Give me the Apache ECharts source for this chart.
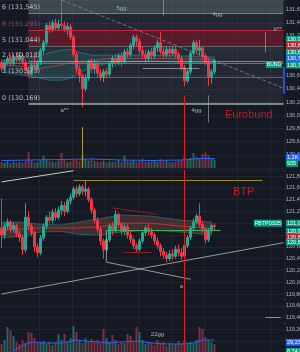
<!DOCTYPE html>
<html><head><meta charset="utf-8">
<script src="https://cdn.jsdelivr.net/npm/echarts@6/dist/echarts.min.js"></script>
<style>html,body{margin:0;padding:0;background:#151924;overflow:hidden}#c{width:300px;height:352px}</style>
</head><body><div id="c"></div>
<script>
// ---------- DATA ----------
// Eurobund candles [open, close, low, high]
const bundCandles = [
[130.80,130.71,130.66,130.84],[130.72,130.80,130.68,130.84],[130.80,130.86,130.76,130.90],[130.86,130.78,130.74,130.92],
[130.78,130.88,130.75,130.93],[130.88,130.84,130.80,130.95],[130.84,130.90,130.80,130.96],[130.90,130.80,130.76,130.94],
[130.80,130.68,130.62,130.84],[130.68,130.62,130.58,130.74],[130.62,130.76,130.60,130.80],[130.76,130.72,130.66,130.90],
[130.72,130.80,130.68,130.84],[130.80,130.98,130.76,131.02],[130.98,131.10,130.92,131.14],[131.10,131.36,131.05,131.40],
[131.36,131.30,131.24,131.42],[131.30,131.40,131.26,131.44],[131.40,131.32,131.28,131.46],[131.32,131.38,131.28,131.44],
[131.38,131.36,131.30,131.74],[131.36,131.30,131.26,131.42],[131.30,131.34,131.22,131.40],[131.34,131.18,131.14,131.38],
[131.18,130.92,130.88,131.22],[130.92,130.70,130.64,130.96],[130.70,130.60,130.50,130.76],[130.60,130.40,130.12,130.64],
[130.40,130.56,130.36,130.62],[130.56,130.80,130.52,130.84],[130.80,130.70,130.64,130.86],[130.70,130.78,130.62,130.84],
[130.78,130.64,130.58,130.82],[130.64,130.58,130.52,130.70],[130.58,130.66,130.50,130.70],[130.66,130.62,130.56,130.72],
[130.62,130.78,130.58,130.82],[130.78,130.86,130.72,130.90],[130.86,130.80,130.74,130.92],[130.80,130.90,130.76,130.94],
[130.90,130.82,130.74,130.96],[130.82,130.96,130.78,131.00],[130.96,130.92,130.86,131.02],[130.92,131.06,130.88,131.10],
[131.06,131.18,131.00,131.22],[131.18,131.12,131.04,131.22],[131.12,130.98,130.94,131.16],[130.98,130.92,130.86,131.04],
[130.92,130.86,130.80,130.98],[130.86,130.96,130.82,131.00],[130.96,130.90,130.84,131.02],[130.90,131.02,130.86,131.06],
[131.02,131.10,130.96,131.14],[131.10,130.96,130.92,131.26],[130.96,130.92,130.86,131.04],[130.92,131.00,130.88,131.04],
[131.00,130.94,130.88,131.04],[130.94,131.00,130.90,131.04],[131.00,130.92,130.86,131.04],[130.92,130.86,130.80,130.96],
[130.86,130.72,130.68,130.90],[130.72,130.52,130.44,130.76],[130.52,130.66,130.48,130.70],[130.66,130.94,130.62,130.98],
[130.94,131.10,130.90,131.14],[131.10,130.98,130.94,131.14],[130.98,131.02,130.90,131.14],[131.02,130.90,130.84,131.04],
[130.90,130.80,130.76,130.94],[130.80,130.58,130.44,130.84],[130.58,130.66,130.48,130.70],[130.66,130.82,130.62,130.86]
];
// BTP candles [open, close, low, high]
const btpCandles = [
[120.92,120.80,120.58,121.42],[120.80,120.95,120.74,121.00],[120.95,121.02,120.88,121.08],[121.02,120.90,120.84,121.06],
[120.90,120.96,120.84,121.02],[120.96,120.82,120.76,121.00],[120.82,120.76,120.68,120.88],[120.76,120.55,120.46,120.80],
[120.55,121.10,120.50,121.34],[121.10,120.95,120.88,121.20],[120.95,120.84,120.78,121.00],[120.84,120.60,120.52,120.88],
[120.60,120.50,120.42,120.66],[120.50,120.75,120.46,120.80],[120.75,120.95,120.70,121.00],[120.95,121.10,120.90,121.14],
[121.10,121.05,121.00,121.20],[121.05,121.18,121.00,121.24],[121.18,121.10,121.04,121.26],[121.10,121.22,121.06,121.28],
[121.22,121.30,121.14,121.38],[121.30,121.20,121.12,121.36],[121.20,121.38,121.16,121.42],[121.38,121.44,121.32,121.50],
[121.44,121.58,121.40,121.62],[121.58,121.50,121.44,121.64],[121.50,121.62,121.46,121.66],[121.62,121.54,121.48,121.66],
[121.54,121.58,121.46,121.73],[121.58,121.40,121.36,121.62],[121.40,121.22,121.16,121.44],[121.22,121.05,121.00,121.26],
[121.05,120.90,120.84,121.10],[120.90,120.70,120.62,120.94],[120.70,120.55,120.40,120.74],[120.55,120.72,120.50,120.78],
[120.72,120.95,120.68,121.00],[120.95,120.88,120.80,121.02],[120.88,121.15,120.84,121.22],[121.15,120.98,120.92,121.18],
[120.98,120.86,120.80,121.02],[120.86,120.94,120.80,121.00],[120.94,120.80,120.74,120.98],[120.80,120.72,120.66,120.86],
[120.72,120.62,120.56,120.76],[120.62,120.56,120.50,120.66],[120.56,120.70,120.52,120.74],[120.70,120.84,120.66,120.88],
[120.84,120.92,120.78,120.96],[120.92,120.86,120.80,120.98],[120.86,120.80,120.74,120.92],[120.80,120.70,120.64,120.84],
[120.70,120.62,120.56,120.76],[120.62,120.52,120.44,120.66],[120.52,120.46,120.40,120.58],[120.46,120.40,120.34,120.52],
[120.40,120.48,120.36,120.54],[120.48,120.44,120.38,120.56],[120.44,120.56,120.40,120.62],[120.56,120.50,120.44,120.64],
[120.50,120.44,120.38,120.58],[120.44,120.62,120.40,120.66],[120.62,120.76,120.58,120.80],[120.76,120.92,120.72,120.96],
[120.92,121.02,120.88,121.08],[121.02,121.12,120.98,121.16],[121.12,120.98,120.94,121.34],[120.98,120.90,120.84,121.04],
[120.90,120.72,120.66,120.94],[120.72,120.88,120.68,120.92],[120.88,120.96,120.82,121.00],[120.96,120.94,120.88,121.00]
];
const bundVolume = [60,55,70,50,65,55,60,50,65,160,70,55,60,75,120,90,70,65,60,75,150,90,60,70,85,80,70,125,90,75,100,70,65,60,75,55,70,60,65,80,60,125,70,65,80,60,70,95,65,60,70,80,60,90,65,70,60,55,65,70,80,120,90,100,150,110,100,140,155,130,100,85];
const btpVolume = [8,12,25,22,16,10,8,12,9,20,19,14,10,9,11,8,10,7,9,18,12,18,10,14,26,20,12,9,14,11,13,10,12,9,23,14,10,17,12,8,10,9,18,16,10,25,20,12,8,10,9,7,12,8,10,6,9,7,8,11,9,12,8,10,9,12,25,23,15,12,10,8];
const bundVolMA = [[0,75],[10,80],[20,85],[30,90],[40,80],[50,75],[60,80],[66,95],[71,95]];
const btpVolMA = [[4,1],[8,8],[10,10],[14,9],[20,9],[25,12],[28,11],[32,10],[36,9],[40,10],[45,11],[50,9],[55,8],[60,8],[64,9],[67,12],[71,12]];
// bands [index, price]
const bundBandUpper = [[0,130.83],[6,130.86],[13,130.89],[16,130.95],[20,130.98],[23,131.00],[26,130.95],[30,130.91],[36,130.91],[50,130.91],[66,130.89],[71,130.88]];
const bundBandMid   = [[0,130.76],[6,130.74],[13,130.71],[16,130.73],[20,130.76],[23,130.80],[26,130.80],[30,130.83],[36,130.86],[50,130.86],[66,130.85],[71,130.84]];
const bundBandLower = [[0,130.65],[6,130.62],[13,130.56],[16,130.53],[20,130.53],[23,130.56],[26,130.65],[30,130.71],[36,130.80],[50,130.82],[66,130.79],[71,130.80]];
const btpBandUpper = [[0,121.02],[6,121.02],[13,120.98],[20,120.97],[26,121.02],[33,121.08],[40,121.14],[50,121.12],[60,121.05],[70,121.02]];
const btpBandMid   = [[0,120.88],[6,120.90],[13,120.92],[20,120.92],[26,120.92],[33,120.94],[40,121.00],[50,121.00],[60,120.95],[70,120.91]];
const btpBandLower = [[0,120.75],[6,120.78],[13,120.85],[20,120.86],[26,120.81],[33,120.80],[40,120.85],[50,120.88],[60,120.85],[70,120.80]];
// fibonacci levels
const fibLevels = [131.545,131.291,131.044,130.818,130.573,130.169];
const fibLabels = ['6 (131,545)','8 (131,291)','5 (131,044)','2 (130,818)','3 (130,573)','0 (130,169)'];
// price tags
const bundTagLevels = [131.15,131.06,130.95,130.86,130.76];
const bundTagTexts = ['130,94','130,87','130,84','130,78','130,76'];
const bundVolTagLevels = [129.36,129.27];
const bundVolTagTexts = ['1,2K','935'];
const btpTagLevels = [121.00,120.86,120.76,120.68,118.98,118.83];
const btpTagTexts = ['121,00','120,94','120,81','120,69','29,23 K','8,74 K'];
// text notes [index, price, text]
const bundNotes = [[40,131.62,'5gg'],[72,131.53,'4gg'],[65,130.08,'4gg'],[21,130.08,'a**'],[92,131.30,'b**']];
const btpNotes = [[60,119.93,'a'],[52,119.12,'22gg']];
const nCats = 95;
const cats = Array.from({length:nCats},(_, i)=>String(i));

// ---------- STYLE ----------
const UP='#22ab94', DOWN='#f23645', GREEN='#089981', RED='#b22833', BLUE='#2962ff';
const FONT='Liberation Sans';
const fmt = v => v.toFixed(2).replace('.', ',');
const tagStyles = {
  bund:[GREEN,RED,GREEN,BLUE,GREEN], bundVol:[BLUE,GREEN], btp:[GREEN,GREEN,RED,GREEN,BLUE,GREEN]
};
function tag(val, text, bg){
  return {yAxis:val, lineStyle:{color:'rgba(0,0,0,0)', opacity:1}, label:{show:true, position:'end', distance:1, formatter:text, opacity:1,
    backgroundColor:bg, color:'#fff', fontSize:5.5, fontFamily:FONT, padding:[1,2,0,1]}};
}
function seg(a, b, color, width, type){
  return [{coord:a, lineStyle:{color, width:width||1, type:type||'solid'}}, {coord:b}];
}
function note(n, color){
  return {coord:[n[0], n[1]], symbol:'circle', symbolSize:1, itemStyle:{color:'rgba(0,0,0,0)'},
    label:{show:true, position:'inside', formatter:n[2], color, fontSize:6, fontFamily:FONT}};
}
function leftTag(i, p, text, size){
  return {coord:[i,p], symbol:'circle', symbolSize:1, itemStyle:{color:'rgba(0,0,0,0)'},
    label:{show:true, position:'left', distance:1, formatter:text, color:'#fff', backgroundColor:GREEN, fontSize:size, fontFamily:FONT, padding:[1,1,0,1]}};
}
function band(xi, yi, up, lo, fill, edge){
  return {type:'custom', xAxisIndex:xi, yAxisIndex:yi, silent:true, z:1, data:[[up[0][0], up[0][1]]],
    renderItem:(params, api)=>{
      const t = up.map(d=>api.coord(d));
      const b = lo.map(d=>api.coord(d));
      return {type:'group', children:[
        {type:'polygon', shape:{points:t.concat(b.slice().reverse())}, style:{fill:fill}},
        {type:'polyline', shape:{points:t}, style:{stroke:edge, fill:null, lineWidth:1}},
        {type:'polyline', shape:{points:b}, style:{stroke:edge, fill:null, lineWidth:1}}
      ]};
    }};
}
const fibFill = ['rgba(120,135,130,0.42)','rgba(130,135,155,0.13)','rgba(170,30,50,0.45)','rgba(130,135,155,0.17)','rgba(130,135,155,0.14)','rgba(130,135,155,0.12)'];
const fibLine = ['rgba(170,185,180,0.6)','#c62a3a','rgba(170,175,185,0.45)','rgba(200,205,210,0.55)','rgba(170,175,185,0.45)','rgba(180,200,180,0.85)'];
const fibAreas = [[{xAxis:9, yAxis:fibLevels[0], itemStyle:{color:fibFill[0]}},{xAxis:94, yAxis:131.745}]];
for(let k=0;k<fibLevels.length-1;k++){
  fibAreas.push([{xAxis:9, yAxis:fibLevels[k], itemStyle:{color:fibFill[k+1]}},{xAxis:94, yAxis:fibLevels[k+1]}]);
}
const bundLines = fibLevels.map((l,k)=>seg([9,l],[94,l],fibLine[k], k===5?1.5:1));
bundLines.push(seg([0,130.79],[94,130.79],'rgba(60,170,110,0.8)',1));
bundLines.push(seg([47,130.71],[66,130.71],'rgba(200,205,210,0.6)',1));
bundLines.push(seg([20,131.745],[94,130.41],'rgba(150,160,165,0.6)',1,'dashed'));
bundLines.push(seg([54,131.745],[54,131.50],'rgba(150,160,160,0.7)',1));
bundLines.push(seg([88,131.26],[88,130.95],'rgba(150,160,160,0.7)',1));
bundLines.push(seg([69,130.30],[69,129.89],'rgba(150,160,160,0.7)',1));
bundLines.push(seg([61,130.30],[61,129.2],'#e01c24',1));
bundLines.push(seg([27,129.82],[27,129.2],'#a89a2a',1));
bundLines.push(seg([94,130.73],[94,130.33],BLUE,1.5));
bundTagLevels.forEach((v,k)=>bundLines.push(tag(v,bundTagTexts[k],tagStyles.bund[k])));
bundVolTagLevels.forEach((v,k)=>bundLines.push(tag(v,bundVolTagTexts[k],tagStyles.bundVol[k])));

const btpLines = [
  seg([24,121.73],[87,121.73],'#9a8a20',1),
  seg([0,121.70],[24,121.89],'#b8d8b0',1),
  seg([35,120.88],[73,120.88],'#3fae5a',1),
  seg([0,119.80],[94,120.67],'rgba(200,210,190,0.7)',1),
  seg([35,120.34],[63,120.05],'rgba(200,210,190,0.7)',1),
  seg([35,120.88],[35,120.34],'rgba(170,175,175,0.7)',1),
  seg([37,121.26],[52,121.15],'#8a1f28',1),
  seg([41,120.51],[50,120.51],'#8a1f28',1),
  seg([88,119.41],[93,119.41],'#a89a2a',1),
  seg([61,121.902],[61,118.8],'#e01c24',1)
];
btpTagLevels.forEach((v,k)=>btpLines.push(tag(v,btpTagTexts[k],tagStyles.btp[k])));

const volItems = (vols, candles) => vols.map((v,i)=>({value:v, itemStyle:{color: candles[i][1]>=candles[i][0] ? '#1f6b63' : '#7c3040'}}));

const priceAxis = (gi, min, max) => ({gridIndex:gi, type:'value', position:'right', min, max, interval:0.2,
  axisLine:{show:false}, axisTick:{show:false},
  splitLine:{show:true, lineStyle:{color:'rgba(255,255,255,0.05)'}},
  axisLabel:{show:true, formatter:fmt, fontSize:5.5, color:'#b2b5be', fontFamily:FONT, margin:1, overflow:'none', hideOverlap:false, showMaxLabel:false, showMinLabel:false}});
const volAxis = (gi, max) => ({gridIndex:gi, type:'value', min:0, max, show:false});
const xAx = (gi, split) => ({gridIndex:gi, type:'category', data:cats, boundaryGap:true, show:true,
  axisLine:{show:false}, axisTick:{show:false}, axisLabel:{show:false},
  splitLine:{show:split, interval:(i)=> i>=13 && (i-13)%11===0, lineStyle:{color:'rgba(255,255,255,0.05)'}}});

const fibTexts = fibLevels.map((l,k)=>({coord:[0,l], symbol:'circle', symbolSize:1, itemStyle:{color:'rgba(0,0,0,0)'},
  label:{show:true, position:'right', distance:0, offset:[0,-6], formatter:fibLabels[k], fontSize:6.5, fontFamily:'DejaVu Sans', color: k===1 ? '#d0303c' : '#b8bcc4'}}));

const G = (top, height) => ({left:0, right:15, top, height, outerBoundsMode:'none', containLabel:false});

const chart = echarts.init(document.getElementById('c'), null, {renderer:'canvas'});
chart.setOption({
  animation:false, backgroundColor:'#151924',
  title:[
    {text:'Eurobund', left:225, top:109.5, padding:0, textStyle:{color:'#d0121e', fontSize:11, fontWeight:'normal', fontFamily:FONT}},
    {text:'BTP', left:233, top:186, padding:0, textStyle:{color:'#d0121e', fontSize:11, fontWeight:'normal', fontFamily:FONT}}
  ],
  grid:[G(0,168), G(150,18), G(170,183), G(322,30)],
  xAxis:[xAx(0,true), xAx(1,false), xAx(2,true), xAx(3,false)],
  yAxis:[priceAxis(0,129.2,131.745), volAxis(1,180), priceAxis(2,118.8,121.902), volAxis(3,30)],
  series:[
    band(0,0,bundBandUpper,bundBandLower,'rgba(38,166,154,0.16)','rgba(38,166,154,0.5)'),
    {type:'line', xAxisIndex:0, yAxisIndex:0, data:bundBandMid, symbol:'none', silent:true, z:1, lineStyle:{color:'rgba(200,60,70,0.75)', width:1}},
    {type:'candlestick', xAxisIndex:0, yAxisIndex:0, data:bundCandles, barWidth:2, clip:false, z:3,
      itemStyle:{color:UP, color0:DOWN, borderColor:UP, borderColor0:DOWN, borderWidth:1},
      markArea:{silent:true, z:0, data:fibAreas},
      markLine:{silent:true, symbol:['none','none'], data:bundLines},
      markPoint:{silent:true, data: fibTexts.concat(bundNotes.map(n=>note(n,'#8fbfc0'))).concat([leftTag(94,130.76,'BUND',5)])}
    },
    {type:'bar', xAxisIndex:1, yAxisIndex:1, data:volItems(bundVolume,bundCandles), barWidth:2, silent:true},
    {type:'line', xAxisIndex:1, yAxisIndex:1, data:bundVolMA, symbol:'none', silent:true, lineStyle:{color:BLUE, width:1}},
    band(2,2,btpBandUpper,btpBandLower,'rgba(150,75,65,0.38)','rgba(38,166,154,0.45)'),
    {type:'line', xAxisIndex:2, yAxisIndex:2, data:btpBandMid, symbol:'none', silent:true, z:1, lineStyle:{color:'rgba(210,70,70,0.7)', width:1}},
    {type:'candlestick', xAxisIndex:2, yAxisIndex:2, data:btpCandles, barWidth:2, clip:false, z:3,
      itemStyle:{color:UP, color0:DOWN, borderColor:UP, borderColor0:DOWN, borderWidth:1},
      markLine:{silent:true, symbol:['none','none'], data:btpLines},
      markPoint:{silent:true, data: btpNotes.map(n=>note(n,'#8fbfc0')).concat([leftTag(94,121.00,'FBTP0325',5.5)])}
    },
    {type:'bar', xAxisIndex:3, yAxisIndex:3, data:volItems(btpVolume,btpCandles), barWidth:2, silent:true},
    {type:'line', xAxisIndex:3, yAxisIndex:3, data:btpVolMA, symbol:'none', silent:true, lineStyle:{color:BLUE, width:1}}
  ]
});
</script>
</body></html>
